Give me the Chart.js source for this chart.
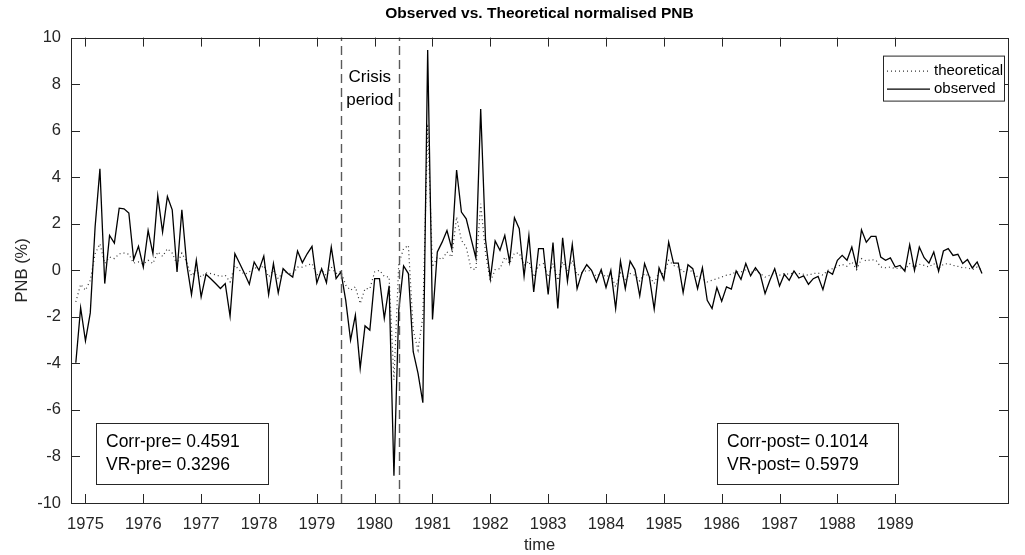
<!DOCTYPE html>
<html>
<head>
<meta charset="utf-8">
<title>Observed vs. Theoretical normalised PNB</title>
<script src="https://cdn.jsdelivr.net/npm/chart.js@4.4.1/dist/chart.umd.min.js"></script>
<style>
  html, body { margin: 0; padding: 0; background: #fff; }
  canvas { display: block; }
</style>
</head>
<body>
<canvas id="pnb-chart" width="1025" height="555"></canvas>
<script>
// monthly series, first month = Nov 1974
var firstYear = 1974, firstMonth = 11;

var observed = [
  -3.97, -1.61, -3.03, -1.83, 1.86, 4.36, -0.57, 1.5, 1.17, 2.67, 2.64, 2.46, 0.46, 1.03, 0.14, 1.71,
  0.71, 3.21, 1.64, 3.17, 2.6, -0.07, 2.6, 0.29, -1.04, 0.43, -1.14, -0.17, -0.36, -0.57, -0.78,
  -0.57, -1.97, 0.71, 0.29, -0.14, -0.6, 0.36, 0, 0.61, -1.04, 0.29, -0.97, 0.07, -0.14, -0.29, 0.83,
  0.33, 0.71, 1.03, -0.54, 0.07, -0.53, 1.0, -0.36, -0.07, -1.29, -3.0, -1.93, -4.21, -2.39, -2.57, -0.36,
  -0.36, -2.07, -0.67, -8.83, -1.71, 0.19, -0.14, -3.5, -4.43, -5.69, 9.47, -2.11, 0.79, 1.21, 1.71, 0.93,
  4.31, 2.5, 2.21, 1.36, 0.53, 6.93, 1.31, -0.36, 1.26, 0.86, 1.5, 0.36, 2.26, 1.79, -0.26, 1.5, -0.93,
  0.93, 0.93, -1.04, 1.19, -1.64, 1.4, -0.47, 1.11, -0.79, -0.11, 0.24, 0, -0.5, 0.03, -0.74, 0,
  -1.64, 0.39, -0.79, 0.39, 0.03, -1.1, 0.29, -0.29, -1.67, 0.11, -0.4, 1.21, 0.31, 0.31, -0.96, 0.24,
  0.07, -0.79, 0.11, -1.29, -1.64, -0.74, -1.33, -0.71, -0.81, -0.03, -0.39, 0.29, -0.24, 0.11, -0.17, -1.0,
  -0.43, 0.07, -0.67, -0.17, -0.43, -0.03, -0.33, -0.24, -0.6, -0.36, -0.26, -0.83, -0.04, -0.17, 0.43, 0.64,
  0.43, 1.0, 0.14, 1.74, 1.21, 1.46, 1.46, 0.57, 0.43, 0.53, 0.14, 0.21, -0.04, 1.1, 0, 1.0,
  0.54, 0.31, 0.79, -0.04, 0.83, 0.93, 0.64, 0.69, 0.29, 0.46, 0.1, 0.36, -0.14
];

var theoretical = [
  -1.36, -0.6, -0.86, -0.43, 0.71, 1.14, 0.29, 0.57, 0.5, 0.71, 0.74, 0.69, 0.31, 0.36, 0.26, 0.43,
  0.29, 0.79, 0.6, 0.93, 0.74, 0.26, 0.74, 0.36, -0.24, 0, -0.29, -0.11, -0.14, -0.19, -0.27,
  -0.21, -0.5, 0.21, 0, -0.17, -0.07, 0.14, 0.03, 0.21, -0.29, 0, -0.36, -0.07, -0.11, -0.17, 0.14,
  0.14, 0.21, 0.29, -0.21, 0, -0.24, 0.14, -0.14, -0.04, -0.64, -0.86, -0.71, -1.43, -0.79, -0.79, -0.07,
  0, -0.26, -0.29, -4.71, 0.29, 0.93, 1.07, -2.57, -3.43, -2.0, 6.29, 0.14, 0.57, 0.46, 0.79, 0.57,
  2.29, 1.29, 1.0, 0.07, 0.03, 2.86, 0.74, -0.5, 0.03, 0.07, 0.57, 0.29, 0.74, 0.74, 0.21, 0.39, -0.29,
  0.21, 0.29, -0.29, 0.29, -0.43, 0.36, -0.03, 0.43, -0.21, -0.11, 0, -0.03, -0.26, -0.11, -0.29, -0.17,
  -0.71, -0.11, -0.4, -0.14, -0.21, -0.46, -0.14, -0.26, -0.57, -0.07, -0.17, 0.43, 0.21, 0.14, -0.07, 0.03,
  -0.07, -0.29, -0.36, -0.5, -0.43, -0.36, -0.29, -0.21, -0.17, -0.07, -0.07, 0.03, -0.11, 0, -0.14, -0.29,
  -0.21, -0.11, -0.21, -0.14, -0.17, -0.11, -0.14, -0.17, -0.21, -0.14, -0.11, -0.21, 0, 0.07, 0.17, 0.25,
  0.17, 0.36, 0.03, 0.5, 0.4, 0.46, 0.43, 0.14, 0.11, 0.14, 0.07, 0.11, 0.03, 0.29, 0.14, 0.26,
  0.21, 0.14, 0.29, 0.07, 0.26, 0.29, 0.21, 0.17, 0.11, 0.11, 0.03, 0.14, 0
];

var yearTicks = [1975, 1976, 1977, 1978, 1979, 1980, 1981, 1982, 1983, 1984, 1985, 1986, 1987, 1988, 1989];
var crisisBounds = [1979 + 5 / 12, 1980 + 5 / 12];   // Jun 1979 - Jun 1980
var statsPre = ['Corr-pre= 0.4591', 'VR-pre= 0.3296'];
var statsPost = ['Corr-post= 0.1014', 'VR-post= 0.5979'];

var time = [];
for (var i = 0; i < observed.length; i++) {
    time.push(firstYear + (firstMonth - 1 + i) / 12);
}

function toPoints(vals) {
    var pts = [];
    for (var i = 0; i < vals.length; i++) pts.push({x: time[i], y: vals[i]});
    return pts;
}

var axisCol = '#262626';
var fontFam = '"Liberation Sans", Arial, Helvetica, sans-serif';

// MATLAB-like box, inward ticks, crisis markers, text boxes and legend
var matlabFrame = {
    id: 'matlabFrame',
    afterDatasetsDraw: function(chart) {
        var c = chart.ctx, a = chart.chartArea;
        var xs = chart.scales.x, ys = chart.scales.y;
        var tl = 9;
        c.save();

        // crisis period lines
        c.strokeStyle = '#5a5a5a';
        c.lineWidth = 1.4;
        c.setLineDash([9, 5]);
        crisisBounds.forEach(function(t) {
            var px = Math.round(xs.getPixelForValue(t)) + 0.5;
            c.beginPath(); c.moveTo(px, a.bottom); c.lineTo(px, a.top); c.stroke();
        });
        c.setLineDash([]);

        // box + ticks
        c.strokeStyle = axisCol;
        c.lineWidth = 1;
        c.strokeRect(Math.round(a.left) + 0.5, Math.round(a.top) + 0.5,
                     Math.round(a.right - a.left), Math.round(a.bottom - a.top));
        c.beginPath();
        yearTicks.forEach(function(v) {
            var px = Math.round(xs.getPixelForValue(v)) + 0.5;
            c.moveTo(px, a.bottom); c.lineTo(px, a.bottom - tl);
            c.moveTo(px, a.top); c.lineTo(px, a.top + tl);
        });
        ys.ticks.forEach(function(t) {
            var py = Math.round(ys.getPixelForValue(t.value)) + 0.5;
            c.moveTo(a.left, py); c.lineTo(a.left + tl, py);
            c.moveTo(a.right, py); c.lineTo(a.right - tl, py);
        });
        c.stroke();

        // crisis label
        var midX = (xs.getPixelForValue(crisisBounds[0]) + xs.getPixelForValue(crisisBounds[1])) / 2;
        c.fillStyle = '#000';
        c.font = '17px ' + fontFam;
        c.textAlign = 'center';
        c.textBaseline = 'middle';
        c.fillText('Crisis', midX, a.top + 40);
        c.fillText('period', midX, a.top + 63);

        // stats boxes
        function statBox(x, lines, w) {
            var y = a.bottom - 80;
            c.fillStyle = '#fff';
            c.fillRect(x, y, w, 61);
            c.strokeStyle = axisCol;
            c.strokeRect(x + 0.5, y + 0.5, w, 61);
            c.fillStyle = '#000';
            c.textAlign = 'left';
            c.font = '17.5px ' + fontFam;
            c.fillText(lines[0], x + 10, y + 19);
            c.fillText(lines[1], x + 10, y + 42);
        }
        statBox(a.left + 25, statsPre, 172);
        statBox(a.left + 646, statsPost, 181);

        // legend
        var lx = a.right - 125, ly = a.top + 18, lw = 121, lh = 45;
        c.fillStyle = '#fff';
        c.fillRect(lx, ly, lw, lh);
        c.strokeStyle = axisCol;
        c.strokeRect(lx + 0.5, ly + 0.5, lw, lh);
        c.font = '15px ' + fontFam;
        c.textAlign = 'left';
        chart.data.datasets.forEach(function(ds, k) {
            var yy = ly + 15 + k * 18 + 0.5;
            c.strokeStyle = ds.borderColor;
            c.lineWidth = ds.borderWidth;
            c.setLineDash(ds.borderDash || []);
            c.beginPath(); c.moveTo(lx + 4, yy); c.lineTo(lx + 47, yy); c.stroke();
            c.setLineDash([]);
            c.fillStyle = '#000';
            c.fillText(ds.label, lx + 51, yy);
        });
        c.restore();
    }
};

var ctx = document.getElementById('pnb-chart').getContext('2d');
var pnbChart = new Chart(ctx, {
    type: 'line',
    data: {
        datasets: [{
            label: 'theoretical',
            data: toPoints(theoretical),
            borderColor: '#333333',
            borderWidth: 1.2,
            borderDash: [1, 3],
            pointRadius: 0,
            tension: 0,
            order: 2
        }, {
            label: 'observed',
            data: toPoints(observed),
            borderColor: '#000000',
            borderWidth: 1.3,
            pointRadius: 0,
            tension: 0,
            order: 1
        }]
    },
    options: {
        responsive: false,
        animation: false,
        events: [],
        layout: { padding: { top: 0, right: 17, bottom: 0, left: 0 } },
        plugins: {
            legend: { display: false },
            tooltip: { enabled: false },
            title: {
                display: true,
                fullSize: false,
                text: 'Observed vs. Theoretical normalised PNB',
                color: '#000',
                font: { family: fontFam, size: 15.5, weight: 'bold', lineHeight: 1.2 },
                padding: { top: 4, bottom: 15 }
            }
        },
        scales: {
            x: {
                type: 'linear',
                min: 1974.75,
                max: 1990.95,
                afterBuildTicks: function(s) {
                    s.ticks = yearTicks.map(function(v) { return {value: v}; });
                },
                afterFit: function(s) { s.height = 52; },
                grid: { display: false, drawTicks: false },
                border: { display: false },
                ticks: {
                    autoSkip: false,
                    maxRotation: 0,
                    padding: 12,
                    color: axisCol,
                    font: { family: fontFam, size: 16.5 },
                    callback: function(v) { return String(v); }
                },
                title: {
                    display: true,
                    text: 'time',
                    color: axisCol,
                    font: { family: fontFam, size: 16.5 },
                    padding: { top: 0, bottom: 0 }
                }
            },
            y: {
                min: -10,
                max: 10,
                afterFit: function(s) { s.width = 71; },
                grid: { display: false, drawTicks: false },
                border: { display: false },
                ticks: {
                    stepSize: 2,
                    padding: 10,
                    color: axisCol,
                    font: { family: fontFam, size: 16.5 }
                },
                title: {
                    display: true,
                    text: 'PNB (%)',
                    color: axisCol,
                    font: { family: fontFam, size: 16.5 },
                    padding: { top: 13, bottom: 0 }
                }
            }
        }
    },
    plugins: [matlabFrame]
});
</script>
</body>
</html>
